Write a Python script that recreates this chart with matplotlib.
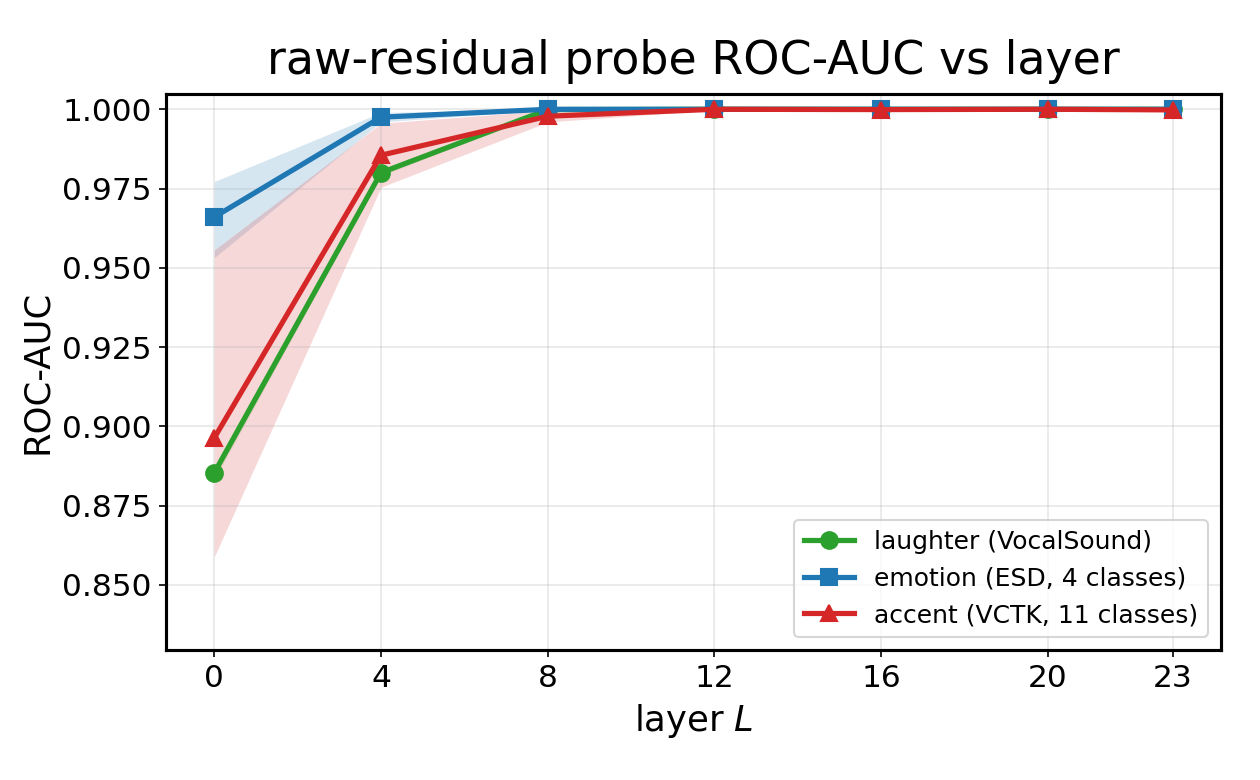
import matplotlib
matplotlib.use("Agg")
import matplotlib.pyplot as plt
import numpy as np

layers = [0, 4, 8, 12, 16, 20, 23]
yticks = [0.850, 0.875, 0.900, 0.925, 0.950, 0.975, 1.000]

laughter_mean = [0.8853, 0.9800, 0.9999, 1.0000, 1.0000, 1.0000, 1.0000]
laughter_lo = [0.8833, 0.9790, 0.9997, 1.0000, 1.0000, 1.0000, 1.0000]
laughter_hi = [0.8873, 0.9810, 1.0000, 1.0000, 1.0000, 1.0000, 1.0000]

emotion_mean = [0.9660, 0.9975, 1.0000, 1.0000, 1.0000, 1.0000, 1.0000]
emotion_lo = [0.9532, 0.9960, 0.9998, 1.0000, 1.0000, 1.0000, 1.0000]
emotion_hi = [0.9772, 0.9990, 1.0000, 1.0000, 1.0000, 1.0000, 1.0000]

accent_mean = [0.8963, 0.9855, 0.9978, 1.0000, 0.9999, 1.0000, 0.9998]
accent_lo = [0.8588, 0.9754, 0.9960, 0.9998, 0.9997, 0.9999, 0.9996]
accent_hi = [0.9556, 0.9956, 0.9996, 1.0000, 1.0000, 1.0000, 1.0000]

series = [
    ("laughter (VocalSound)", laughter_mean, laughter_lo, laughter_hi, "#2ca02c", "o"),
    ("emotion (ESD, 4 classes)", emotion_mean, emotion_lo, emotion_hi, "#1f77b4", "s"),
    ("accent (VCTK, 11 classes)", accent_mean, accent_lo, accent_hi, "#d62728", "^"),
]

fig, ax = plt.subplots(figsize=(8.4, 5.2), dpi=150)
fig.subplots_adjust(left=0.132, right=0.969, top=0.879, bottom=0.167)

for label, mean, lo, hi, color, marker in series:
    ax.fill_between(layers, lo, hi, color=color, alpha=0.18, linewidth=0)
    ax.plot(layers, mean, color=color, marker=marker, markersize=8,
            linewidth=2.5, label=label)

ax.set_xticks(layers)
ax.set_yticks(yticks)
ax.set_yticklabels(["%.3f" % v for v in yticks])
ax.set_ylim(0.8295, 1.0047)
ax.set_xlabel("layer $L$", fontsize=17)
ax.set_ylabel("ROC-AUC", fontsize=17)
ax.set_title("raw-residual probe ROC-AUC vs layer", fontsize=22, pad=10)
ax.tick_params(labelsize=15)
ax.grid(True, alpha=0.3)
for sp in ax.spines.values():
    sp.set_linewidth(1.5)
ax.legend(loc="lower right", fontsize=12)

fig.savefig("out.png", dpi=150)
